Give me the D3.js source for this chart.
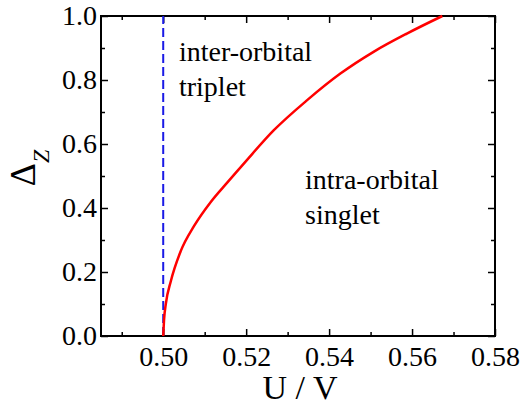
<!DOCTYPE html>
<html>
<head>
<meta charset="utf-8">
<script src="https://cdn.jsdelivr.net/npm/d3@7"></script>
</head>
<body style="margin:0">
<script>
// Phase boundary
const boundaryU = [0.5000, 0.5002, 0.50065, 0.50185, 0.50425, 0.50745, 0.51147, 0.51548, 0.52012, 0.52668, 0.53471, 0.54272, 0.55072, 0.55875, 0.5673];
const boundaryDelta = [0.000, 0.050, 0.102, 0.172, 0.266, 0.344, 0.419, 0.480, 0.549, 0.643, 0.737, 0.820, 0.888, 0.945, 1.000];

// Vertical dashed line at U/V = 0.5
const dashU = [0.5, 0.5];
const dashDelta = [0, 1];

const xMajor = [0.50, 0.52, 0.54, 0.56, 0.58];
const xMinor = [0.49, 0.51, 0.53, 0.55, 0.57];
const yMajor = [0.0, 0.2, 0.4, 0.6, 0.8, 1.0];
const yMinor = [0.1, 0.3, 0.5, 0.7, 0.9];

const regionLabels = [
    { lines: ["inter-orbital", "triplet"], u: 0.5038, d: 0.86 },
    { lines: ["intra-orbital", "singlet"], u: 0.5342, d: 0.46 }
];

const mLeft = 101, mRight = 495, mTop = 16, mBottom = 336;
const fontName = "Liberation Serif";

const svg = d3.select("body").append("svg")
    .attr("width", 521).attr("height", 406)
    .style("display", "block");

const x = d3.scaleLinear().domain([0.485, 0.58]).range([mLeft, mRight]);
const y = d3.scaleLinear().domain([0, 1]).range([mBottom, mTop]);

// axes: ticks point inwards, mirrored on top/right
function styleAxis(g) {
    g.attr("font-family", null).attr("font-size", 28);
    g.select(".domain").remove();
    g.selectAll(".tick line").attr("stroke", "#000").attr("stroke-width", 1.5);
    g.selectAll("text").attr("fill", "#000");
}

svg.append("g").attr("transform", `translate(0,${mBottom})`)
    .call(d3.axisBottom(x).tickValues(xMajor).tickSize(-7).tickPadding(10).tickFormat(d3.format(".2f")))
    .call(styleAxis);
svg.append("g").attr("transform", `translate(0,${mBottom})`)
    .call(d3.axisBottom(x).tickValues(xMinor).tickSize(-4).tickFormat(""))
    .call(styleAxis);
svg.append("g").attr("transform", `translate(0,${mTop})`)
    .call(d3.axisTop(x).tickValues(xMajor).tickSize(-7).tickFormat(""))
    .call(styleAxis);
svg.append("g").attr("transform", `translate(0,${mTop})`)
    .call(d3.axisTop(x).tickValues(xMinor).tickSize(-4).tickFormat(""))
    .call(styleAxis);

svg.append("g").attr("transform", `translate(${mLeft},0)`)
    .call(d3.axisLeft(y).tickValues(yMajor).tickSize(-7).tickPadding(4).tickFormat(d3.format(".1f")))
    .call(styleAxis);
svg.append("g").attr("transform", `translate(${mLeft},0)`)
    .call(d3.axisLeft(y).tickValues(yMinor).tickSize(-4).tickFormat(""))
    .call(styleAxis);
svg.append("g").attr("transform", `translate(${mRight},0)`)
    .call(d3.axisRight(y).tickValues(yMajor).tickSize(-7).tickFormat(""))
    .call(styleAxis);
svg.append("g").attr("transform", `translate(${mRight},0)`)
    .call(d3.axisRight(y).tickValues(yMinor).tickSize(-4).tickFormat(""))
    .call(styleAxis);

// frame
svg.append("rect")
    .attr("x", mLeft).attr("y", mTop)
    .attr("width", mRight - mLeft).attr("height", mBottom - mTop)
    .attr("fill", "none").attr("stroke", "#000").attr("stroke-width", 2);

// dashed line
const dashLine = d3.line().x((d, i) => x(dashU[i])).y(d => y(d));
svg.append("path")
    .attr("d", dashLine(dashDelta))
    .attr("fill", "none")
    .attr("stroke", "#1a1ae6")
    .attr("stroke-width", 2)
    .attr("stroke-dasharray", "9,4");

// boundary curve
const curve = d3.line()
    .x((d, i) => x(boundaryU[i]))
    .y(d => y(d))
    .curve(d3.curveMonotoneX);
svg.append("path")
    .attr("d", curve(boundaryDelta))
    .attr("fill", "none")
    .attr("stroke", "#ff0000")
    .attr("stroke-width", 2.5);

// region labels
regionLabels.forEach(r => {
    r.lines.forEach((t, i) => {
        svg.append("text")
            .attr("x", x(r.u))
            .attr("y", y(r.d) + i * 35)
            .attr("font-size", 28)
            .attr("fill", "#000")
            .text(t);
    });
});

// axis titles
svg.append("text")
    .attr("x", 300).attr("y", 399)
    .attr("text-anchor", "middle")
    .attr("font-size", 34)
    .text("U / V");

const ylab = svg.append("text")
    .attr("transform", "translate(35,168) rotate(-90)")
    .attr("text-anchor", "middle");
ylab.append("tspan").attr("font-size", 36).text("\u0394");
ylab.append("tspan").attr("font-size", 24).attr("font-style", "italic").attr("dy", 14).text("Z");

// one font for every text
svg.selectAll("text").each(function () {
    this.setAttribute("font-family", fontName);
    this.style.setProperty("font-family", '"Liberation Serif"', "important");
});
</script>
</body>
</html>
